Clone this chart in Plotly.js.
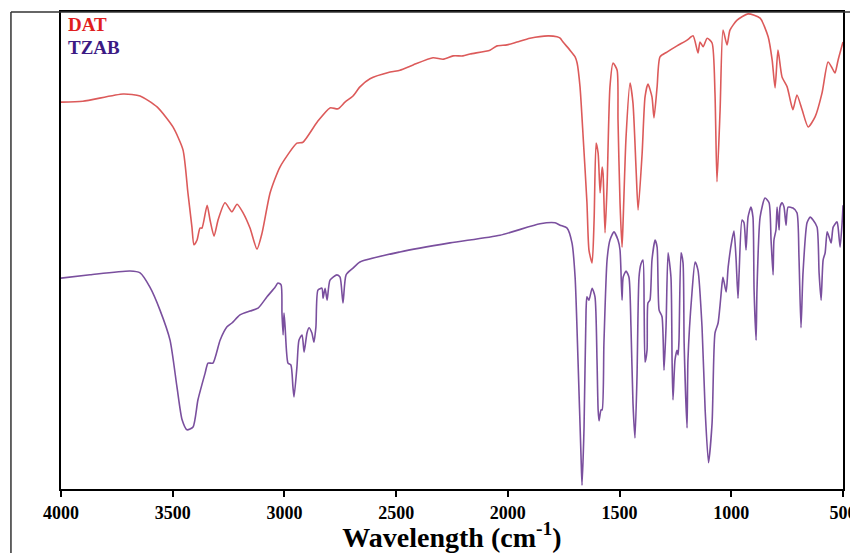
<!DOCTYPE html>
<html>
<head>
<meta charset="utf-8">
<script src="https://cdn.plot.ly/plotly-3.0.1.min.js"></script>
<style>html,body{margin:0;padding:0;background:#fff}#chart{width:850px;height:553px}</style>
</head>
<body>
<div id="chart"></div>
<script>
// DAT spectrum: wavenumber (cm-1) and transmittance (%)
const datWave = [4000,3902,3722,3646,3570,3499,3454,3432,3414,3405,3391,3378,3369,3346,3333,3315,3297,3266,3235,3212,3185,3154,3123,3100,3064,3020,2944,2917,2854,2796,2760,2729,2693,2662,2617,2527,2483,2424,2335,2290,2245,2201,2169,2080,2048,2004,1959,1901,1820,1780,1766,1753,1722,1699,1690,1677,1663,1646,1637,1623,1614,1605,1596,1587,1578,1574,1565,1556,1543,1529,1511,1507,1498,1489,1484,1471,1453,1440,1426,1417,1399,1386,1373,1355,1346,1332,1319,1288,1243,1198,1171,1149,1140,1126,1108,1086,1073,1064,1050,1037,1019,1006,974,925,871,835,817,804,791,773,750,733,724,706,683,656,625,594,567,549,536,522,500];
const datT = [81.1,81.3,82.8,82.4,80.1,75.9,71.1,62.1,54.9,51.2,52.2,54.7,54.7,59.5,56.4,53.0,56.4,60.0,58.1,59.7,57.9,54.7,50.3,53.7,62.1,67.5,72.5,72.7,76.9,79.9,79.7,81.1,82.4,84.3,86.0,87.4,87.8,88.9,90.4,90.1,90.8,90.8,91.2,92.0,92.9,93.1,93.7,94.5,95.0,94.8,94.5,93.7,92.0,90.6,89.3,84.3,73.8,60.0,50.1,47.4,56.4,72.5,70.4,62.1,67.5,66.2,53.7,63.3,84.3,89.3,87.8,77.4,60.0,50.7,56.4,73.8,85.1,80.9,66.9,58.5,70.4,82.2,84.9,82.2,77.8,84.3,90.6,91.6,92.9,94.1,95.0,91.4,93.7,92.7,94.5,93.5,83.0,64.4,79.5,96.2,93.1,96.2,98.3,99.6,98.7,94.8,89.9,84.1,92.0,86.4,84.3,80.9,79.5,82.6,79.5,75.9,78.0,83.0,89.5,88.3,87.2,89.9,93.7];

// TZAB spectrum: wavenumber (cm-1) and transmittance (%)
const tzabWave = [4000,3870,3691,3646,3602,3557,3512,3481,3458,3436,3409,3387,3355,3342,3320,3288,3257,3235,3199,3154,3118,3078,3042,3029,3015,3011,3006,3002,2997,2984,2971,2962,2957,2944,2935,2921,2912,2899,2890,2877,2868,2859,2850,2832,2827,2818,2809,2796,2765,2751,2738,2724,2693,2662,2483,2259,2035,1856,1789,1766,1735,1713,1699,1686,1672,1668,1659,1650,1646,1637,1623,1610,1601,1596,1592,1583,1578,1570,1556,1543,1525,1507,1498,1489,1484,1471,1458,1449,1440,1431,1422,1413,1404,1395,1390,1386,1377,1373,1364,1355,1341,1332,1323,1310,1301,1292,1283,1270,1265,1261,1252,1243,1238,1234,1225,1216,1211,1198,1194,1176,1162,1149,1131,1117,1102,1086,1073,1059,1041,1037,1023,1014,997,988,979,970,965,952,943,934,925,912,903,898,889,885,871,849,831,822,813,809,800,795,786,782,773,764,755,746,724,706,697,688,679,661,647,634,616,607,598,589,580,571,562,553,544,527,522,513,504,500];
const tzabT = [44.2,44.9,45.7,45.3,42.3,37.5,31.2,21.4,14.5,12.4,13.0,18.7,24.3,26.4,26.4,31.2,34.0,34.8,36.5,37.3,37.9,40.3,42.3,43.2,42.8,36.9,32.3,36.9,34.0,26.4,26.0,21.4,19.3,25.6,31.2,32.3,28.7,32.7,33.8,32.7,30.8,34.0,41.7,42.1,40.0,42.1,39.6,43.8,44.9,44.4,39.0,44.9,46.3,47.6,49.7,51.6,53.2,55.6,55.8,55.3,54.7,51.6,44.4,27.0,6.1,0.8,13.0,37.5,40.3,39.6,42.1,40.3,27.0,16.6,14.3,16.6,16.6,30.6,48.0,52.2,53.9,52.2,50.1,39.6,44.4,45.7,44.4,34.0,18.0,10.7,23.5,44.4,47.2,48.0,37.5,26.6,29.1,39.0,39.6,48.0,52.2,50.7,37.5,36.1,24.9,34.0,49.5,44.4,27.0,18.7,27.0,29.1,28.1,31.2,49.5,47.4,30.6,12.8,27.0,41.1,47.6,45.9,34.0,16.6,5.5,13.8,32.7,34.8,43.2,44.4,41.3,46.5,52.2,54.1,48.6,40.0,45.3,56.4,55.8,50.1,57.0,59.1,57.0,41.7,31.2,41.7,57.0,61.0,60.0,52.2,44.9,52.2,54.3,59.1,54.3,59.1,60.0,59.1,55.3,59.1,58.9,57.9,48.6,33.8,45.3,55.8,57.0,56.4,54.9,45.3,39.6,48.0,49.5,53.9,52.8,51.6,54.9,56.0,54.9,50.7,55.8,59.5];

const xTicks = [4000,3500,3000,2500,2000,1500,1000,500];
const seriesNames = ['DAT','TZAB'];

const serif = 'Liberation Serif, Times New Roman, serif';

const traces = [
  {x: datWave, y: datT, name: seriesNames[0], type: 'scatter', mode: 'lines',
   line: {color: '#dc5a5a', width: 1.6, shape: 'spline', smoothing: 0.6}},
  {x: tzabWave, y: tzabT, name: seriesNames[1], type: 'scatter', mode: 'lines',
   line: {color: '#7a4f9e', width: 1.6, shape: 'spline', smoothing: 0.6}}
];

const layout = {
  width: 850, height: 553,
  margin: {l: 61, r: 7, t: 12, b: 64},
  paper_bgcolor: '#ffffff', plot_bgcolor: '#ffffff',
  showlegend: false,
  xaxis: {
    range: [4000, 500], tickvals: xTicks, ticktext: xTicks.map(String),
    ticks: 'outside', ticklen: 6, tickwidth: 2, tickcolor: '#000',
    ticklabeloverflow: 'allow',
    showline: true, linecolor: '#000', linewidth: 2, mirror: true,
    showgrid: false, zeroline: false, automargin: false,
    tickfont: {family: serif, size: 18, color: '#000', weight: 'bold'},
    title: {text: 'Wavelength (cm<sup>-1</sup>)', standoff: 9,
            font: {family: serif, size: 28, color: '#000', weight: 'bold'}}
  },
  yaxis: {
    range: [0, 100], showticklabels: false, ticks: '',
    showline: true, linecolor: '#000', linewidth: 2, mirror: true,
    showgrid: false, zeroline: false
  },
  annotations: [
    {xref: 'paper', yref: 'paper', x: 0.006, y: 0.999, xanchor: 'left', yanchor: 'top',
     text: seriesNames[0], showarrow: false,
     font: {family: serif, size: 19, color: '#e01e1e', weight: 'bold'}},
    {xref: 'paper', yref: 'paper', x: 0.006, y: 0.951, xanchor: 'left', yanchor: 'top',
     text: seriesNames[1], showarrow: false,
     font: {family: serif, size: 19, color: '#3c1a84', weight: 'bold'}}
  ],
  shapes: [
    {type: 'line', xref: 'paper', yref: 'paper', x0: -0.064, x1: -0.064, y0: 1, y1: -0.2,
     line: {color: '#333', width: 1.5}},
    {type: 'line', xref: 'paper', yref: 'paper', x0: -0.064, x1: 1.02, y0: 1, y1: 1,
     line: {color: '#333', width: 1.5}}
  ]
};

Plotly.newPlot('chart', traces, layout, {displayModeBar: false, staticPlot: true});
</script>
</body>
</html>
